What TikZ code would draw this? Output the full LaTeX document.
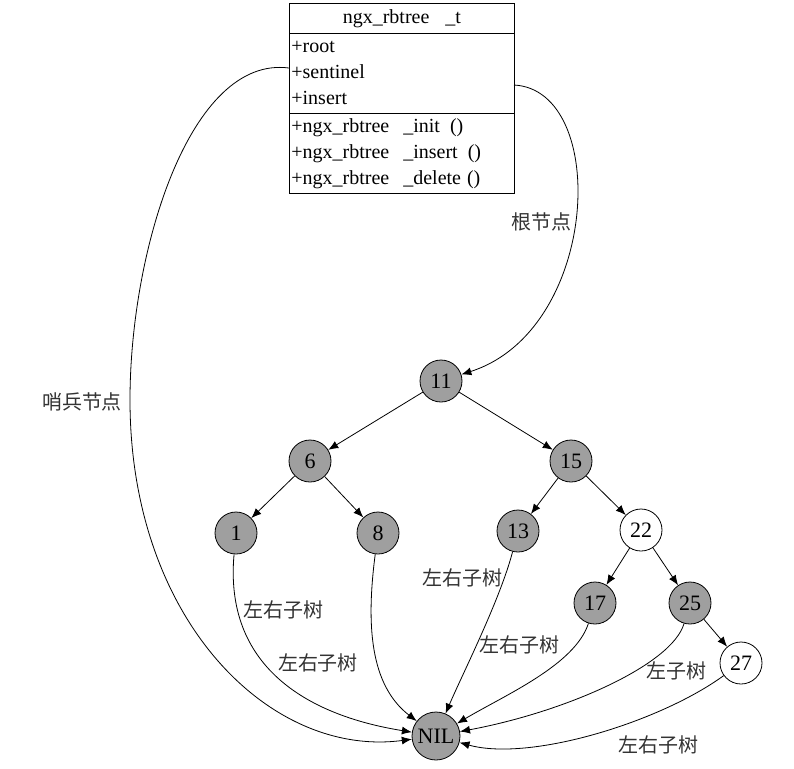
\documentclass[tikz,border=0pt]{standalone}
\usepackage{fontspec}
\setmainfont{Liberation Serif}
\newfontfamily\cjk{Noto Sans CJK SC}
\usetikzlibrary{arrows.meta, positioning}
\tikzset{
  rbnode/.style={
    circle, draw=black, thin, minimum size=21pt, inner sep=0pt,
    font=\fontsize{11}{13}\selectfont, fill=#1
  },
  rbnode/.default=gray!75,
  umlpart/.style={
    rectangle, draw=black, thin, minimum width=112.5pt,
    inner xsep=1pt, inner ysep=0pt, anchor=north west,
    font=\fontsize{10}{13}\selectfont
  },
  treearrow/.style={-{Latex[length=5pt,width=4pt]}, thin},
  edgelabel/.style={font=\cjk\fontsize{10}{12}\selectfont, text=black!80, inner sep=1pt},
}

\begin{document}
\begin{tikzpicture}[x=0.5pt, y=-0.5pt]
    \useasboundingbox (0,0) rectangle (794,768);

    % structure box
    \node[umlpart, minimum height=15pt, align=center] (title) at (289,3)
         {ngx\_rbtree\hspace{8pt}\_t};
    \node[umlpart, minimum height=40pt, align=left, text width=110.5pt] (attrs) at (289,33)
         {+root\\+sentinel\\+insert};
    \node[umlpart, minimum height=40pt, align=left, text width=110.5pt] (meths) at (289,113)
         {+ngx\_rbtree\hspace{7pt}\_init\hspace{5pt}()\\
          +ngx\_rbtree\hspace{7pt}\_insert\hspace{5pt}()\\
          +ngx\_rbtree\hspace{7pt}\_delete\hspace{3pt}()};
    \coordinate (sentinel) at (289,68);
    \coordinate (rootptr) at (514,85);

    % tree nodes
    \node[rbnode] (n11) at (441,381) {11};
    \node[rbnode] (n6)  at (310,461) {6};
    \node[rbnode] (n15) at (571,461) {15};
    \node[rbnode] (n1)  at (236,533) {1};
    \node[rbnode] (n8)  at (378,533) {8};
    \node[rbnode] (n13) at (518,531) {13};
    \node[rbnode=white] (n22) at (641,530) {22};
    \node[rbnode] (n17) at (595,603) {17};
    \node[rbnode] (n25) at (690,603) {25};
    \node[rbnode=white] (n27) at (741,663) {27};
    \node[rbnode, minimum size=24pt] (nil) at (436,736) {NIL};

    \foreach \a/\b in {n11/n6, n11/n15, n6/n1, n6/n8, n15/n13, n15/n22, n22/n17, n22/n25, n25/n27}
      \draw[treearrow] (\a)--(\b);

    % links to the sentinel
    \draw[treearrow] (n1)  .. controls (224,665) and (305,715) .. (nil);
    \draw[treearrow] (n8)  .. controls (366,625) and (370,685) .. (nil);
    \draw[treearrow] (n13) .. controls (500,600) and (462,675) .. (nil);
    \draw[treearrow] (n17) .. controls (575,665) and (505,695) .. (nil);
    \draw[treearrow] (n25) .. controls (672,665) and (565,712) .. (nil);
    \draw[treearrow] (n27) .. controls (660,722) and (530,762) .. (nil);
    \draw[treearrow] (sentinel) .. controls (190,55) and (130,250) .. (130,400)
                     .. controls (130,620) and (270,758) .. (nil);
    \draw[treearrow] (rootptr) .. controls (610,90) and (600,330) .. (n11);

    % labels
    \node[edgelabel] (lsent) at (82,402)  {哨兵节点};
    \node[edgelabel] (lroot) at (541,222) {根节点};
    \node[edgelabel] (l8)    at (283,610) {左右子树};
    \node[edgelabel] (l1)    at (318,663) {左右子树};
    \node[edgelabel] (l13)   at (462,578) {左右子树};
    \node[edgelabel] (l17)   at (519,645) {左右子树};
    \node[edgelabel] (l25)   at (676,671) {左子树};
    \node[edgelabel] (l27)   at (658,745) {左右子树};
\end{tikzpicture}
\end{document}
